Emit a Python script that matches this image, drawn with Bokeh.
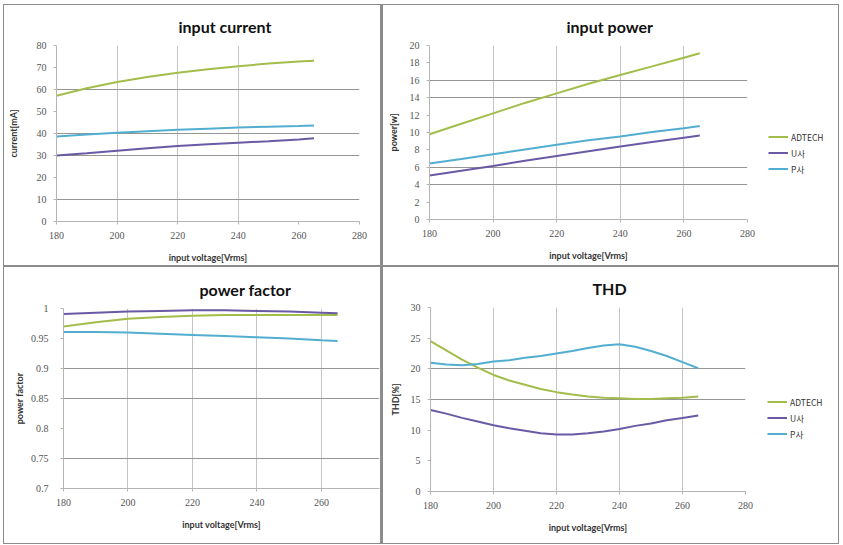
from bokeh.plotting import figure
from bokeh.layouts import row, column
from bokeh.models import FixedTicker, Range1d, Legend, LegendItem, NumeralTickFormatter
from bokeh.embed import file_html
from bokeh.resources import INLINE

# ---------------- data ----------------
voltage = [180, 190, 200, 210, 220, 230, 240, 250, 260, 265]
thd_voltage = [180, 185, 190, 195, 200, 205, 210, 215, 220, 225, 230, 235, 240,
               245, 250, 255, 260, 265]
series_names = ["ADTECH", "U사", "P사"]

current_adtech = [57.2, 60.6, 63.4, 65.7, 67.6, 69.2, 70.6, 71.8, 72.7, 73.1]
current_u = [30.0, 31.0, 32.2, 33.3, 34.3, 35.1, 35.8, 36.5, 37.3, 37.8]
current_p = [38.6, 39.6, 40.3, 41.0, 41.7, 42.2, 42.7, 43.1, 43.4, 43.6]

power_adtech = [9.8, 11.0, 12.2, 13.4, 14.5, 15.6, 16.6, 17.6, 18.6, 19.1]
power_u = [5.05, 5.6, 6.15, 6.75, 7.3, 7.85, 8.4, 8.9, 9.4, 9.65]
power_p = [6.45, 6.95, 7.5, 8.05, 8.6, 9.1, 9.55, 10.05, 10.5, 10.75]

pf_adtech = [0.970, 0.977, 0.983, 0.986, 0.988, 0.989, 0.989, 0.989, 0.989, 0.989]
pf_u = [0.991, 0.993, 0.995, 0.996, 0.997, 0.997, 0.996, 0.995, 0.993, 0.992]
pf_p = [0.961, 0.961, 0.960, 0.958, 0.956, 0.954, 0.952, 0.950, 0.947, 0.946]

thd_adtech = [24.5, 23.0, 21.5, 20.2, 19.0, 18.1, 17.4, 16.7, 16.2, 15.8, 15.5,
              15.3, 15.2, 15.1, 15.1, 15.2, 15.3, 15.5]
thd_u = [13.3, 12.7, 12.0, 11.4, 10.8, 10.3, 9.9, 9.5, 9.3, 9.3, 9.5, 9.8, 10.2,
         10.7, 11.1, 11.6, 12.0, 12.4]
thd_p = [21.0, 20.7, 20.6, 20.8, 21.2, 21.4, 21.8, 22.1, 22.5, 22.9, 23.4, 23.8,
         24.0, 23.6, 22.9, 22.1, 21.1, 20.1]

x_ticks_full = [180, 200, 220, 240, 260, 280]
x_ticks_pf = [180, 200, 220, 240, 260]
current_ticks = [0, 10, 20, 30, 40, 50, 60, 70, 80]
power_ticks = [0, 2, 4, 6, 8, 10, 12, 14, 16, 18, 20]
pf_ticks = [0.7, 0.75, 0.8, 0.85, 0.9, 0.95, 1.0]
thd_ticks = [0, 5, 10, 15, 20, 25, 30]

COLORS = {"ADTECH": "#a3bd4b", "U사": "#6a5aa5", "P사": "#52aed0"}
HGRID = "#959595"
VGRID = "#c4c4c4"
WHITE_BOX = {"background-color": "white"}


def make_fig(w, h, title, ylab, xr, yr, xticks, yticks, xgrid, ygrid,
             mb, title_offset, ylab_standoff, tick_standoff):
    p = figure(width=w, height=h, output_backend="svg", toolbar_location=None,
               x_range=Range1d(*xr), y_range=Range1d(*yr),
               min_border_left=mb[0], min_border_right=mb[1],
               min_border_top=mb[2], min_border_bottom=mb[3])
    p.title.text = title
    p.title.align = "left"
    p.title.offset = title_offset
    p.title.standoff = 19
    p.title.text_font = "Lato"
    p.title.text_font_style = "bold"
    p.title.text_font_size = "16px"
    p.title.text_color = "#111111"
    p.outline_line_color = None
    p.background_fill_color = "white"
    p.border_fill_color = "white"

    p.xaxis.ticker = FixedTicker(ticks=xticks)
    p.yaxis.ticker = FixedTicker(ticks=yticks)
    p.xgrid.ticker = FixedTicker(ticks=xgrid)
    p.ygrid.ticker = FixedTicker(ticks=ygrid)
    p.xgrid.grid_line_color = VGRID
    p.ygrid.grid_line_color = HGRID
    for ax in (p.xaxis[0], p.yaxis[0]):
        ax.axis_line_color = "#b5b5b5"
        ax.major_tick_line_color = "#b5b5b5"
        ax.major_tick_out = 3
        ax.major_tick_in = 0
        ax.minor_tick_line_color = None
        ax.major_label_text_font = "Liberation Serif"
        ax.major_label_text_font_size = "10px"
        ax.major_label_text_color = "#555555"
        ax.axis_label_text_font = "Lato"
        ax.axis_label_text_font_style = "bold"
        ax.axis_label_text_font_size = "9px"
        ax.axis_label_text_color = "#333333"
    p.xaxis.axis_label = "input voltage[Vrms]"
    p.xaxis.major_label_standoff = 7
    p.xaxis.axis_label_standoff = 10
    p.yaxis.axis_label = ylab
    p.yaxis.major_label_standoff = tick_standoff
    p.yaxis.axis_label_standoff = ylab_standoff
    return p


def add_lines(p, x, ys):
    for name, y in zip(series_names, ys):
        p.line(x, y, line_color=COLORS[name], line_width=2)


def legend_fig(w, h, x, ys, loc):
    # a narrow side panel holding the legend (its lines sit outside the view)
    lf = figure(width=w, height=h, output_backend="svg", toolbar_location=None,
                x_range=Range1d(0, 1), y_range=Range1d(0, 1),
                x_axis_type=None, y_axis_type=None, min_border=0)
    lf.outline_line_color = None
    lf.background_fill_color = "white"
    lf.border_fill_color = "white"
    items = []
    for name, y in zip(series_names, ys):
        r = lf.line(x, y, line_color=COLORS[name], line_width=2)
        items.append(LegendItem(label=name, renderers=[r]))
    lg = Legend(items=items, location=loc, orientation="vertical")
    lg.border_line_color = None
    lg.background_fill_alpha = 0
    lg.label_text_font = "Noto Sans CJK KR"
    lg.label_text_font_size = "8.5px"
    lg.label_text_color = "#333333"
    lg.glyph_width = 20
    lg.glyph_height = 13
    lg.label_height = 13
    lg.label_standoff = 3
    lg.spacing = 3
    lg.padding = 0
    lg.margin = 0
    lf.add_layout(lg)
    return lf


p1 = make_fig(376, 260, "input current", "current[mA]", (180, 280), (0, 80),
              x_ticks_full, current_ticks, [200, 220, 240], [10, 30, 40, 60, 80],
              (48, 21, 38, 41), 122, 15, 7)
add_lines(p1, voltage, [current_adtech, current_u, current_p])

p2 = make_fig(374, 260, "input power", "power[w]", (180, 280), (0, 20),
              x_ticks_full, power_ticks, [200, 220, 240, 260, 280], [4, 6, 14, 16],
              (46, 10, 38, 46), 137, 8, 7)
add_lines(p2, voltage, [power_adtech, power_u, power_p])
l2 = legend_fig(81, 260, voltage, [power_adtech, power_u, power_p], (11, 44))

p3 = make_fig(376, 276, "power factor", "power factor", (180, 278), (0.7, 1.0),
              x_ticks_pf, pf_ticks, [200, 220, 240, 260], [0.75, 0.85, 0.9, 1.0],
              (59, 1, 41, 55), 136, 3, 12)
p3.yaxis.formatter = NumeralTickFormatter(format="0.[00]")
add_lines(p3, voltage, [pf_adtech, pf_u, pf_p])

p4 = make_fig(372, 276, "THD", "THD[%]", (180, 280), (0, 30),
              x_ticks_full, thd_ticks, [200, 220, 240, 260, 280], [15, 20, 30],
              (47, 10, 37, 52), 162, 7, 7)
add_lines(p4, thd_voltage, [thd_adtech, thd_u, thd_p])
l4 = legend_fig(83, 276, thd_voltage, [thd_adtech, thd_u, thd_p], (12, 51))

layout = column(
    row(column(p1, styles=WHITE_BOX), row(p2, l2, spacing=0, styles=WHITE_BOX),
        spacing=3),
    row(column(p3, styles=WHITE_BOX), row(p4, l4, spacing=0, styles=WHITE_BOX),
        spacing=3),
    spacing=2,
    styles={"background-color": "#8c8c8c", "padding": "1px",
            "margin-left": "3px", "margin-top": "4px"},
)

open("out.html", "w").write(file_html(layout, INLINE))
